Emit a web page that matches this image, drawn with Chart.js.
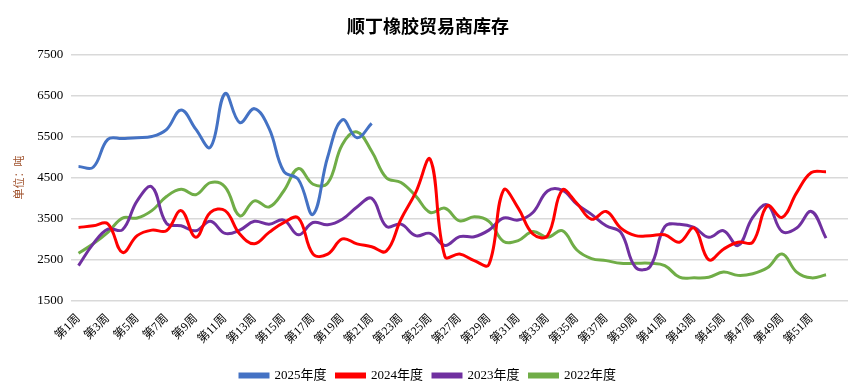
<!DOCTYPE html>
<html>
<head>
<meta charset="utf-8">
<script src="https://cdn.jsdelivr.net/npm/chart.js@4.4.1/dist/chart.umd.min.js"></script>
<style>
  html, body { margin: 0; padding: 0; background: #fff; }
  #wrap { width: 858px; height: 392px; }
</style>
</head>
<body>
<div id="wrap"><canvas id="stockChart"></canvas></div>
<script>
// weeks 1..52 plus one empty slot at the end
const weeks = [];
for (let i = 1; i <= 52; i++) weeks.push('第' + i + '周');
weeks.push('');

const y2025 = [4770, 4750, 5430, 5450, 5470, 5500, 5670, 6150, 5680, 5240,
  6550, 5840, 6180, 5700, 4650, 4450, 3600, 5000, 5910, 5470, 5820];

const y2024 = [3280, 3320, 3370, 2670, 3080, 3215, 3200, 3690, 3040, 3650,
  3690, 3120, 2880, 3160, 3400, 3510, 2630, 2630, 3000, 2880,
  2810, 2700, 3480, 4130, 4940, 2570, 2630, 2470, 2375, 4190,
  3750, 3120, 3080, 4190, 3870, 3480, 3670, 3265, 3080, 3080,
  3100, 2920, 3265, 2490, 2750, 2920, 2920, 3810, 3525, 4130,
  4620, 4640];

const y2023 = [2350, 2880, 3240, 3225, 3930, 4270, 3380, 3320, 3200, 3430,
  3135, 3215, 3430, 3360, 3460, 3100, 3400, 3345, 3480, 3780,
  3990, 3305, 3360, 3080, 3135, 2840, 3055, 3055, 3215, 3510,
  3460, 3645, 4170, 4190, 3850, 3600, 3320, 3160, 2310, 2325,
  3300, 3360, 3280, 3040, 3200, 2840, 3525, 3830, 3180, 3265,
  3670, 3020];

const y2022 = [2650, 2880, 3160, 3510, 3510, 3690, 4035, 4210, 4080, 4375,
  4270, 3565, 3930, 3780, 4170, 4720, 4335, 4360, 5305, 5610,
  5140, 4495, 4375, 4050, 3645, 3750, 3440, 3540, 3430, 2940,
  2960, 3180, 3040, 3200, 2730, 2520, 2470, 2405, 2405, 2405,
  2350, 2065, 2050, 2065, 2190, 2110, 2150, 2295, 2630, 2190,
  2050, 2125];

const serif = '"Liberation Serif", "Noto Sans CJK SC", serif';

function line(label, data, color) {
  return {
    label: label,
    data: data,
    borderColor: color,
    backgroundColor: color,
    borderWidth: 3,
    pointRadius: 0,
    tension: 0.4,
    fill: false
  };
}

const ctx = document.getElementById('stockChart');
new Chart(ctx, {
  type: 'line',
  data: {
    labels: weeks,
    datasets: [
      line('2025年度', y2025, '#4472C4'),
      line('2024年度', y2024, '#FF0000'),
      line('2023年度', y2023, '#7030A0'),
      line('2022年度', y2022, '#70AD47')
    ]
  },
  options: {
    responsive: true,
    maintainAspectRatio: false,
    animation: false,
    layout: { padding: { left: 8, right: 10, top: 4, bottom: 0 } },
    plugins: {
      title: {
        display: true,
        text: '顺丁橡胶贸易商库存',
        color: '#000',
        font: { family: '"Noto Sans CJK SC", serif', size: 18, weight: 'bold' },
        padding: { top: 11, bottom: 18 }
      },
      legend: {
        position: 'bottom',
        labels: {
          boxWidth: 28,
          boxHeight: 3,
          color: '#000',
          padding: 10,
          font: { family: serif, size: 13 }
        }
      },
      tooltip: { enabled: false }
    },
    scales: {
      x: {
        offset: true,
        grid: { display: false },
        border: { display: false },
        afterFit: function (scale) { scale.height += 9; },
        ticks: {
          autoSkip: false,
          maxRotation: 45,
          minRotation: 45,
          color: '#000',
          font: { family: serif, size: 12 },
          callback: function (val, idx) {
            return idx % 2 === 0 ? this.getLabelForValue(val) : '';
          }
        }
      },
      y: {
        min: 1500,
        max: 7500,
        grid: { color: '#D9D9D9', lineWidth: 1.5, drawTicks: false },
        border: { display: false },
        ticks: {
          stepSize: 1000,
          padding: 8,
          color: '#000',
          font: { family: serif, size: 13 },
          callback: function (val) { return String(val); }
        },
        title: {
          display: true,
          text: '单位：吨',
          color: '#A0522D',
          font: { family: '"Noto Sans CJK SC", sans-serif', size: 11 }
        }
      }
    }
  }
});
</script>
</body>
</html>
